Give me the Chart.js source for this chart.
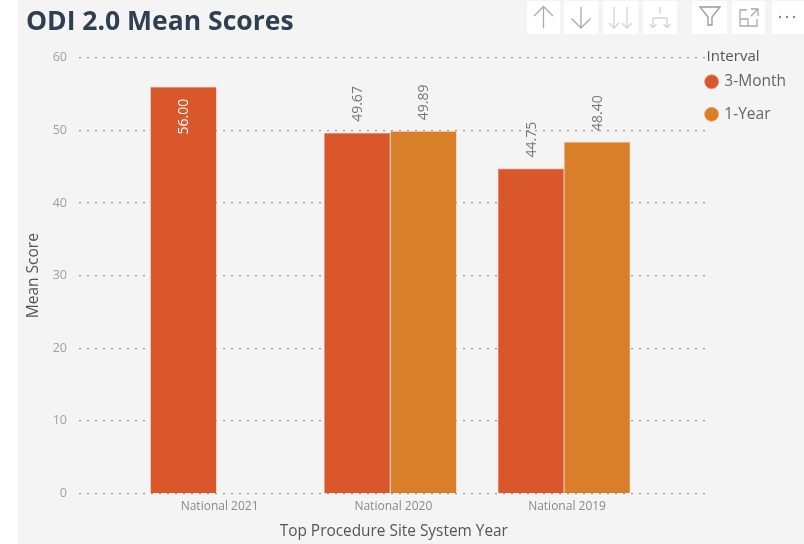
<!DOCTYPE html>
<html><head><meta charset="utf-8">
<style>
html,body{margin:0;padding:0;background:#fff;width:804px;height:544px;overflow:hidden}
#panel{position:absolute;left:18px;top:0;width:786px;height:544px;background:#f4f4f4}
#c{position:absolute;left:0;top:0}
.b{position:absolute;top:1px;height:33px;background:#fff}
.b svg{position:absolute;left:0;top:0;width:100%;height:100%;fill:none;stroke-width:1.3}
</style>
<script src="https://cdn.jsdelivr.net/npm/chart.js@4"></script>
</head><body>
<div id="panel"></div>
<div style="position:absolute;left:0;top:0;width:804px;height:544px"><canvas id="c" width="804" height="544"></canvas></div>
<div class="b" style="left:527px;width:33px"><svg viewBox="0 0 33 33" stroke="#aaa"><path d="M16.5 27V6M7 15l9.5-9.5L26 15"/></svg></div>
<div class="b" style="left:564px;width:34px"><svg viewBox="0 0 34 33" stroke="#aaa"><path d="M17 6v21M7.500 17.500L17 27l9.500-9.500"/></svg></div>
<div class="b" style="left:603px;width:35px"><svg viewBox="0 0 35 33" stroke="#d4d4d4"><path d="M11 6v21M6 22l5 5 5-5M24 6v21M19 22l5 5 5-5"/></svg></div>
<div class="b" style="left:643px;width:34px"><svg viewBox="0 0 34 33" stroke="#d4d4d4"><path d="M17 6v7M10 26v-9h14v9M6.500 23l3.500 3.500 3.500-3.500M20.500 23l3.500 3.500 3.500-3.500"/></svg></div>
<div class="b" style="left:692px;width:35px"><svg viewBox="0 0 35 33" stroke="#999"><path d="M8 6h20l-8 10v8l-4 0v-8z"/></svg></div>
<div class="b" style="left:732px;width:33px"><svg viewBox="0 0 33 33" stroke="#aaa"><path d="M15 9H8v16h17v-7M8 18h8v7M19 8h7v7M26 8l-7 7"/></svg></div>
<div class="b" style="left:772px;width:32px"><svg viewBox="0 0 32 33" style="fill:#888"><circle cx="8" cy="16" r="1.200"/><circle cx="15" cy="16" r="1.200"/><circle cx="22" cy="16" r="1.200"/></svg></div>
<script>
const categories = ["National 2021", "National 2020", "National 2019"];
const intervals = ["3-Month", "1-Year"];
const legendHeading = "Interval";
const threeMonth = [56.00, 49.67, 44.75];
const oneYear = [null, 49.89, 48.40];
const yTicks = [0, 10, 20, 30, 40, 50, 60];
const colors = ["#DA562B", "#D97F2A"];

const toPoints = arr => arr.map((v, i) => ({x: i, y: v}));

const rotatedLabels = {
  id: "rotatedLabels",
  afterLayout(chart) {
    const legend = chart.legend;
    legend.left -= 19;
    legend.right -= 19;
    legend.top += 52;
    legend.bottom += 52;
  },
  afterDatasetsDraw(chart) {
    const ctx = chart.ctx;
    chart.data.datasets.forEach((ds, di) => {
      chart.getDatasetMeta(di).data.forEach((bar, i) => {
        const v = ds.data[i].y;
        if (v == null) return;
        const inside = v >= 55;
        ctx.save();
        ctx.translate(bar.x + 1, inside ? bar.y + 12 : bar.y - 11);
        ctx.rotate(-Math.PI / 2);
        ctx.font = "14px 'Open Sans'";
        ctx.fillStyle = inside ? "#ffffff" : "#777777";
        ctx.textBaseline = "middle";
        ctx.textAlign = inside ? "right" : "left";
        ctx.fillText(v.toFixed(2), 0, 0);
        ctx.restore();
      });
    });
  },
  afterDraw(chart) {
    const ctx = chart.ctx;
    ctx.save();
    ctx.font = "15px 'Open Sans'";
    ctx.fillStyle = "#555";
    ctx.textBaseline = "middle";
    ctx.textAlign = "left";
    ctx.fillText(legendHeading, chart.chartArea.right - 2, chart.chartArea.top - 1.5);
    ctx.restore();
  }
};

new Chart(document.getElementById("c"), {
  type: "bar",
  data: {
    datasets: [
      {label: intervals[0], data: toPoints(threeMonth), backgroundColor: colors[0], borderColor: "#e9997f", borderWidth: 0.6},
      {label: intervals[1], data: toPoints(oneYear), backgroundColor: colors[1], borderColor: "#e8b07c", borderWidth: 0.6}
    ]
  },
  options: {
    responsive: false,
    animation: false,
    layout: {padding: {left: 26, top: 5, right: -11, bottom: 3}},
    datasets: {bar: {categoryPercentage: 0.763, barPercentage: 1}},
    scales: {
      x: {
        type: "linear",
        offset: false,
        min: -0.792,
        max: 2.832,
        afterBuildTicks: s => { s.ticks = categories.map((_, i) => ({value: i})); },
        afterFit: s => { s.height = 47.5; },
        grid: {display: false, offset: false},
        border: {display: false},
        ticks: {
          autoSkip: false, maxRotation: 0, padding: -2, labelOffset: 3,
          color: "#8a8a8a", font: {family: "Open Sans", size: 12},
          callback: v => categories[v]
        },
        title: {display: true, text: "Top Procedure Site System Year", color: "#555",
                font: {family: "Open Sans", size: 15.4}, padding: {top: 4, bottom: 0}}
      },
      y: {
        min: 0, max: 60,
        afterBuildTicks: s => { s.ticks = yTicks.map(v => ({value: v})); },
        afterFit: s => { s.width = 53; },
        grid: {color: "#999", lineWidth: 1.2, drawTicks: false},
        border: {display: false, dash: [2, 6]},
        ticks: {color: "#a0a0a0", font: {family: "Open Sans", size: 12.5}, padding: 12},
        title: {display: true, text: "Mean Score", color: "#555",
                font: {family: "Open Sans", size: 15.5, lineHeight: 1}, padding: 0}
      }
    },
    plugins: {
      title: {display: true, text: "ODI 2.0 Mean Scores", align: "start", color: "#2f3f52",
              font: {family: "Open Sans", size: 26.5, weight: "bold"}, padding: {top: 2, bottom: 19}},
      legend: {
        position: "right", align: "start",
        labels: {usePointStyle: true, pointStyle: "circle", boxWidth: 10, boxHeight: 10, padding: 17,
                 color: "#666", font: {family: "Open Sans", size: 15.5}}
      },
      tooltip: {enabled: false}
    }
  },
  plugins: [rotatedLabels]
});
</script>
</body></html>
